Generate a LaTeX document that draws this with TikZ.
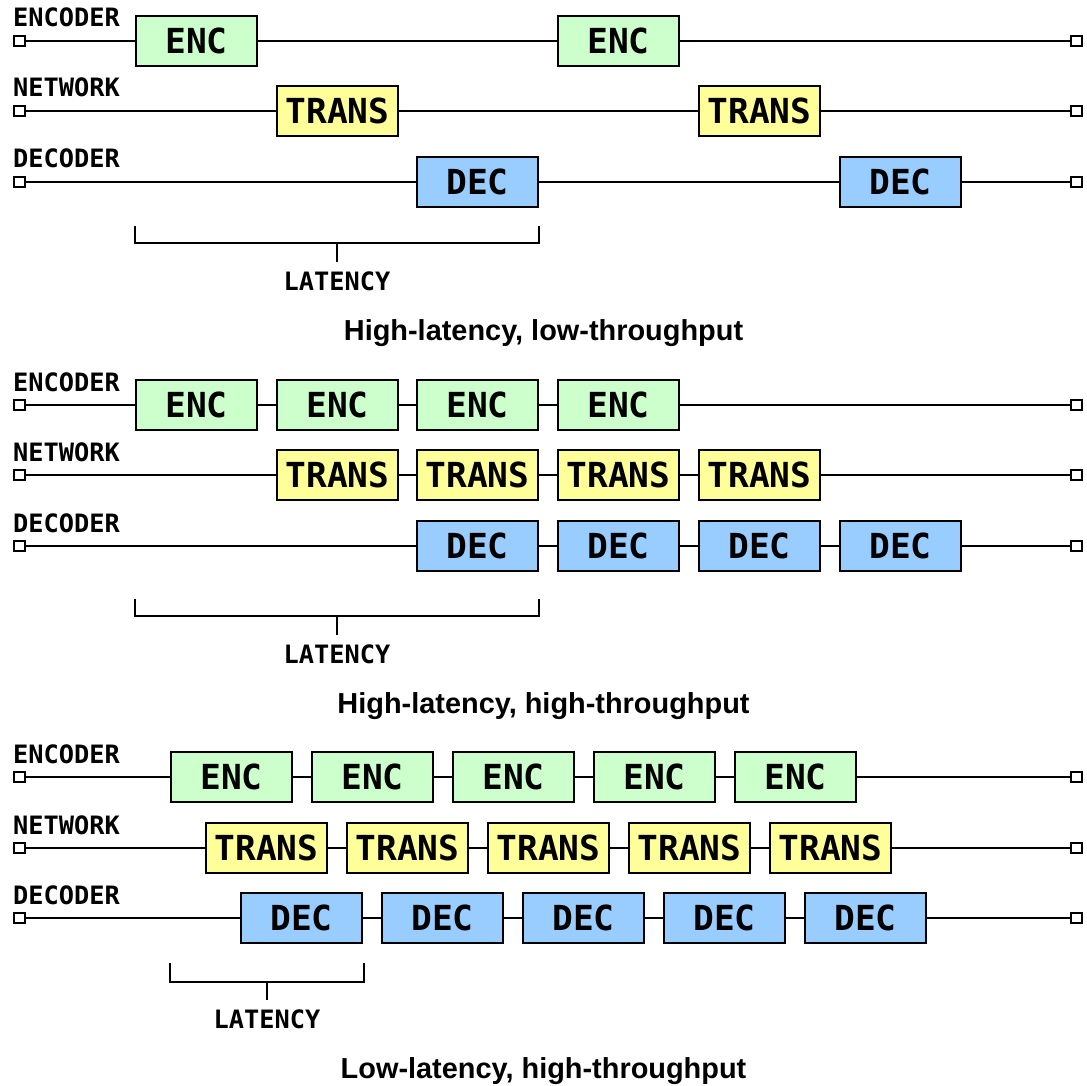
\documentclass[tikz,border=0pt]{standalone}
\usepackage{fontspec}
\setmonofont{DejaVu Sans Mono}
\newfontfamily\captionfont{Liberation Sans}
\definecolor{encfill}{HTML}{CCFFCC}
\definecolor{transfill}{HTML}{FFFF99}
\definecolor{decfill}{HTML}{99CCFF}
\tikzset{
  stage/.style={draw, line width=2.6pt, minimum width=121pt, minimum height=50pt,
    inner sep=0pt, font=\ttfamily\bfseries\fontsize{34.5}{34}\selectfont},
  encbox/.style={stage, fill=encfill},
  transbox/.style={stage, fill=transfill},
  decbox/.style={stage, fill=decfill},
  term/.style={draw, fill=white, line width=2pt, minimum size=10.5pt, inner sep=0pt},
  wire/.style={line width=2pt},
  rowlabel/.style={anchor=base west, inner sep=0pt,
    font=\ttfamily\bfseries\fontsize{25.3}{26}\selectfont},
  latlabel/.style={anchor=base, inner sep=0pt,
    font=\ttfamily\bfseries\fontsize{25.3}{26}\selectfont},
  caption/.style={anchor=base, inner sep=0pt,
    font=\captionfont\bfseries\fontsize{28.9}{30}\selectfont},
}
% #1 name prefix, #2 row y, #3 left edges of the boxes, #4 box style, #5 box text, #6 row label
\newcommand\timeline[6]{%
  \node[rowlabel] at (13,#2-14) {#6};
  \node[term] (#1L) at (19.5,#2) {};
  \node[term] (#1R) at (1076.5,#2) {};
  \foreach \x [count=\k, remember=\k as \j (initially L)] in {#3} {
    \node[#4] (#1\k) at (\x+61.5,#2) {#5};
    \draw[wire] (#1\j) -- (#1\k);
    \xdef\lastbox{\k}
  }
  \draw[wire] (#1\lastbox) -- (#1R);
}
% #1 name prefix, #2 left x, #3 right x, #4 top y, #5 bottom y, #6 tick end y, #7 label baseline
\newcommand\latencybracket[7]{%
  \coordinate (#1a) at (#2,#4);
  \coordinate (#1b) at (#2,#5);
  \coordinate (#1c) at (#3,#5);
  \coordinate (#1d) at (#3,#4);
  \coordinate (#1m) at ({(#2+#3)/2},#5);
  \coordinate (#1t) at ({(#2+#3)/2},#6);
  \draw[wire] (#1a) -- (#1b) -- (#1c) -- (#1d);
  \draw[wire] (#1m) -- (#1t);
  \node[latlabel] (#1lab) at ({(#2+#3)/2},#7) {LATENCY};
}
\begin{document}
\begin{tikzpicture}[x=1pt,y=-1pt]
\useasboundingbox (0,0) rectangle (1087,1086);

% high latency, low throughput
\timeline{ae}{41}{135,557}{encbox}{ENC}{ENCODER}
\timeline{an}{111}{276,698}{transbox}{TRANS}{NETWORK}
\timeline{ad}{182}{416,839}{decbox}{DEC}{DECODER}
\latencybracket{al}{135}{539}{226}{243}{262}{290}
\node[caption] (acap) at (543.5,340) {High-latency, low-throughput};

% high latency, high throughput
\timeline{be}{405}{135,276,416,557}{encbox}{ENC}{ENCODER}
\timeline{bn}{475}{276,416,557,698}{transbox}{TRANS}{NETWORK}
\timeline{bd}{546}{416,557,698,839}{decbox}{DEC}{DECODER}
\latencybracket{bl}{135}{539}{599}{616}{635}{663}
\node[caption] (bcap) at (543.5,713) {High-latency, high-throughput};

% low latency, high throughput
\timeline{ce}{777}{170,311,452,593,734}{encbox}{ENC}{ENCODER}
\timeline{cn}{848}{205,346,487,628,769}{transbox}{TRANS}{NETWORK}
\timeline{cd}{918}{240,381,522,663,804}{decbox}{DEC}{DECODER}
\latencybracket{cl}{170}{364}{963}{982}{1000}{1028}
\node[caption] (ccap) at (543.5,1078) {Low-latency, high-throughput};
\end{tikzpicture}
\end{document}
